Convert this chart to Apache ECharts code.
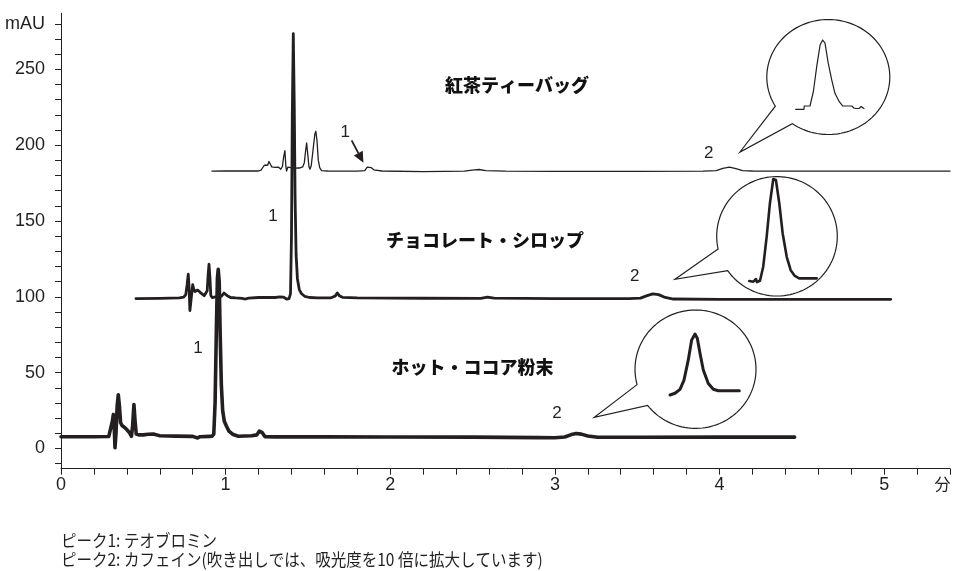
<!DOCTYPE html>
<html>
<head>
<meta charset="utf-8">
<script src="https://cdn.jsdelivr.net/npm/echarts@6/dist/echarts.min.js"></script>
<style>
  html, body { margin: 0; padding: 0; background: #fff; }
  #chart { width: 953px; height: 571px; }
</style>
</head>
<body>
<div id="chart"></div>
<script>
// Chromatograms: [retention time (min), absorbance (mAU)]
const teaBag = [
  [0.917,182.9],[1.0,183.0],[1.2,183.0],[1.215,183.6],[1.235,186.8],[1.245,187.8],[1.255,186.8],
  [1.263,189.3],[1.271,187.6],[1.28,185.7],[1.30,185.4],[1.32,185.6],[1.335,184.2],[1.345,186.0],
  [1.352,192.0],[1.36,196.5],[1.366,186.0],[1.370,183.0],[1.378,185.5],[1.39,185.5],[1.405,185.0],
  [1.42,184.5],[1.435,185.0],[1.451,185.0],[1.468,185.7],[1.478,188.5],[1.486,196.5],[1.492,201.5],
  [1.499,194.0],[1.506,186.0],[1.512,184.2],[1.52,186.5],[1.53,196.0],[1.542,207.5],[1.548,209.2],
  [1.555,203.0],[1.563,190.0],[1.572,185.0],[1.583,183.3],[1.62,183.0],[1.8,182.9],[1.845,183.2],
  [1.86,185.5],[1.872,186.8],[1.885,185.2],[1.90,183.8],[1.95,183.0],[2.2,182.6],[2.45,182.9],
  [2.51,183.7],[2.54,184.0],[2.58,183.3],[2.7,182.9],[3.0,182.8],[3.5,182.8],[3.9,182.9],
  [3.98,183.2],[4.02,184.8],[4.06,185.5],[4.1,184.5],[4.14,183.3],[4.2,183.0],[4.6,182.9],
  [5.0,182.9],[5.4,182.9]
];
const chocolateSyrup = [
  [0.455,98.9],[0.6,99.0],[0.72,99.3],[0.745,99.8],[0.758,101.5],[0.766,108.0],[0.773,115.0],
  [0.778,106.0],[0.783,91.0],[0.79,98.0],[0.8,108.0],[0.807,105.0],[0.814,103.5],[0.83,104.5],
  [0.845,103.0],[0.855,102.3],[0.87,100.8],[0.88,100.2],[0.888,104.0],[0.894,115.0],[0.899,121.5],
  [0.905,112.0],[0.91,101.0],[0.918,99.5],[0.93,100.0],[0.945,100.2],[0.96,99.8],[0.975,100.5],
  [0.99,102.5],[0.997,102.7],[1.01,100.8],[1.03,99.6],[1.06,99.3],[1.1,99.0],[1.12,98.6],
  [1.14,99.2],[1.2,99.6],[1.3,99.6],[1.33,100.0],[1.34,100.9],[1.35,99.9],[1.37,98.6],
  [1.385,98.8],[1.394,102.0],[1.4,140.0],[1.405,220.0],[1.411,273.5],[1.417,225.0],[1.422,165.0],
  [1.428,128.0],[1.436,112.0],[1.447,105.0],[1.46,102.2],[1.48,100.4],[1.51,99.6],[1.56,99.4],
  [1.64,99.4],[1.665,100.5],[1.678,102.6],[1.69,100.8],[1.71,99.7],[1.8,99.4],[2.2,99.1],
  [2.55,99.0],[2.59,99.9],[2.63,99.2],[3.0,98.9],[3.45,98.9],[3.52,99.2],[3.56,100.8],
  [3.595,102.0],[3.63,101.5],[3.67,99.6],[3.72,98.6],[4.0,98.4],[4.5,98.4],[5.04,98.4]
];
const cocoaPowder = [
  [0,7.8],[0.2,7.8],[0.29,7.9],[0.302,9.0],[0.312,18.0],[0.318,22.5],[0.323,15.0],[0.328,0.5],
  [0.334,10.0],[0.341,28.0],[0.348,35.5],[0.355,28.0],[0.362,17.0],[0.372,15.0],[0.385,14.0],
  [0.399,12.5],[0.415,10.6],[0.428,8.1],[0.435,15.0],[0.443,29.0],[0.45,18.0],[0.457,9.5],
  [0.475,9.0],[0.5,9.0],[0.53,9.4],[0.561,9.6],[0.58,9.0],[0.6,8.4],[0.7,8.2],[0.8,8.0],
  [0.83,7.0],[0.845,7.8],[0.9,8.0],[0.918,8.1],[0.928,9.5],[0.936,30.0],[0.944,80.0],[0.95,112.0],
  [0.955,118.2],[0.961,110.0],[0.967,75.0],[0.974,42.0],[0.982,25.0],[0.992,18.0],[1.006,14.5],
  [1.02,11.5],[1.046,9.2],[1.077,8.1],[1.158,8.4],[1.19,9.0],[1.205,11.5],[1.212,12.5],
  [1.222,10.5],[1.239,7.8],[1.3,7.7],[1.6,7.7],[2.0,7.6],[2.5,7.5],[2.9,7.2],[3.0,7.1],
  [3.06,7.6],[3.1,9.2],[3.13,9.9],[3.16,9.5],[3.2,8.3],[3.26,7.4],[3.5,7.4],[4.0,7.5],[4.456,7.5]
];

// Caffeine peaks magnified x10 for the speech-bubble close-ups
const teaCaffeineX10 = [
  [3.9475,0],[3.982,0],[3.983,1.24],[4.007,1.24],[4.021,6.6],[4.035,16.0],[4.049,24.1],[4.06,26.0],
  [4.0696,24.8],[4.083,17.3],[4.0975,11.0],[4.111,6.0],[4.129,2.85],[4.143,1.24],[4.181,1.24],
  [4.182,0.5],[4.19,0.5],[4.192,1.24],[4.199,0.3],[4.207,1.05],[4.211,0.3],[4.22,1.05],
  [4.224,0.3],[4.232,0.3]
];
const chocolateCaffeineX10 = [
  [3.5,0],[3.5167,-0.2],[3.528,0.63],[3.532,-0.3],[3.5446,0.1],[3.558,4.5],[3.5725,13.9],
  [3.586,24.4],[3.60,32.0],[3.611,31.7],[3.625,24.4],[3.639,15.0],[3.656,7.6],[3.6725,3.4],
  [3.690,1.6],[3.708,0.85],[3.781,0.85]
];
const cocoaCaffeineX10 = [
  [3.0258,0],[3.0467,0.56],[3.0675,1.87],[3.0842,4.9],[3.102,11.5],[3.116,18.0],[3.13,20.0],
  [3.1396,18.6],[3.1508,13.7],[3.1646,8.2],[3.1854,3.8],[3.2063,1.87],[3.2271,1.41],[3.3146,1.41]
];

// Axis ticks and labels
const yTickValues = [-10,0,10,20,30,40,50,60,70,80,90,100,110,120,130,140,150,160,170,180,190,200,210,220,230,240,250,260,270,280];
const yLabelValues = [0,50,100,150,200,250,280];
const yUnit = 'mAU';
const xUnit = '分';

const sampleNames = ['紅茶ティーバッグ', 'チョコレート・シロップ', 'ホット・ココア粉末'];
const peakNotes = ['ピーク1: テオブロミン', 'ピーク2: カフェイン(吹き出しでは、吸光度を10 倍に拡大しています)'];

// Peak number labels anchored in data space: [text, time, mAU]
const peakMarks = [
  ['1', 1.727, 208.2], ['2', 3.934, 194.5],
  ['1', 1.287, 153.1], ['2', 3.485, 113.8],
  ['1', 0.832, 66.4], ['2', 3.012, 23.0]
];

const INK = '#231f20';
const NUM_FONT = "'Liberation Sans Narrow','Liberation Sans','DejaVu Sans',sans-serif";
const JP_FONT = "'Noto Sans CJK JP','Noto Sans',sans-serif";

// Close-up bubble layout (pixels) and their plot boxes
const bubbles = [
  { cx: 828.3, cy: 77.0, rx: 61.5, ry: 57.5, b1: [777, 105.3], tip: [740, 152], b2: [793.3, 122.3] },
  { cx: 777.0, cy: 236.3, rx: 60.3, ry: 59.7, b1: [719.7, 248.7], tip: [675, 279.3], b2: [730, 269] },
  { cx: 695.5, cy: 369.2, rx: 60.5, ry: 59.2, b1: [638.3, 384.3], tip: [594.3, 417.3], b2: [649.3, 404] }
];
const insets = [
  { data: teaCaffeineX10, box: { left: 795.7, top: 40, width: 68.3, height: 69.3 }, x: [3.9475, 4.232], y: [0, 26], w: 1.2 },
  { data: chocolateCaffeineX10, box: { left: 749.3, top: 179, width: 67.4, height: 103 }, x: [3.5, 3.781], y: [-0.3, 32], w: 2.6 },
  { data: cocoaCaffeineX10, box: { left: 670, top: 334, width: 69.3, height: 61 }, x: [3.0258, 3.3146], y: [0, 20], w: 3.0 }
];

const chart = echarts.init(document.getElementById('chart'), null, { renderer: 'canvas' });

const grids = [{ left: 61, top: 13.3, width: 889.4, height: 455.4 }];
const xAxes = [{
  type: 'value', gridIndex: 0, min: 0, max: 5.4, interval: 0.2,
  axisLine: { show: true, onZero: false, lineStyle: { color: INK, width: 1 } },
  axisTick: { show: true, length: 6, lineStyle: { color: INK, width: 1 } },
  axisLabel: {
    margin: 7, color: INK, fontFamily: NUM_FONT, fontSize: 18,
    formatter: v => Math.abs(v - Math.round(v)) < 1e-6 && Math.round(v) <= 5 ? String(Math.round(v)) : ''
  },
  splitLine: { show: false }
}];
const yAxes = [{
  type: 'value', gridIndex: 0, min: -13.3, max: 287,
  axisLine: { show: true, onZero: false, lineStyle: { color: INK, width: 1 } },
  axisTick: { show: true, length: 6, customValues: yTickValues, lineStyle: { color: INK, width: 1 } },
  axisLabel: {
    margin: 16, color: INK, fontFamily: NUM_FONT, fontSize: 18, customValues: yLabelValues,
    formatter: v => (v === 280 ? yUnit : String(v))
  },
  splitLine: { show: false }
}];

const series = [
  { name: sampleNames[0], data: teaBag, w: 1.3 },
  { name: sampleNames[1], data: chocolateSyrup, w: 2.8 },
  { name: sampleNames[2], data: cocoaPowder, w: 3.6 }
].map(s => ({
  type: 'line', name: s.name, data: s.data, xAxisIndex: 0, yAxisIndex: 0,
  showSymbol: false, symbol: 'none', smooth: false, animation: false, z: 3,
  lineStyle: { color: INK, width: s.w, join: 'round', cap: 'round' }
}));

insets.forEach((ins, i) => {
  grids.push(ins.box);
  xAxes.push({ type: 'value', gridIndex: i + 1, min: ins.x[0], max: ins.x[1], show: false });
  yAxes.push({ type: 'value', gridIndex: i + 1, min: ins.y[0], max: ins.y[1], show: false });
  series.push({
    type: 'line', data: ins.data, xAxisIndex: i + 1, yAxisIndex: i + 1,
    showSymbol: false, symbol: 'none', animation: false, z: 6, clip: false,
    lineStyle: { color: INK, width: ins.w, join: 'round', cap: 'round' }
  });
});

chart.setOption({
  animation: false,
  backgroundColor: '#fff',
  grid: grids,
  xAxis: xAxes,
  yAxis: yAxes,
  series: series
});

// Speech bubble outline: ellipse arc open between the tail's base points, closed via the tip
function bubblePoints(b) {
  const ang = p => Math.atan2((p[1] - b.cy) / b.ry, (p[0] - b.cx) / b.rx);
  const a1 = ang(b.b1), a2 = ang(b.b2);
  let d = a2 - a1;
  while (d <= -Math.PI) d += 2 * Math.PI;
  while (d > Math.PI) d -= 2 * Math.PI;
  const sweep = d > 0 ? d - 2 * Math.PI : d + 2 * Math.PI;
  const pts = [];
  const n = 120;
  for (let k = 0; k <= n; k++) {
    const a = a1 + sweep * k / n;
    pts.push([b.cx + b.rx * Math.cos(a), b.cy + b.ry * Math.sin(a)]);
  }
  pts.push(b.tip);
  return pts;
}

const graphics = [];
bubbles.forEach(b => {
  graphics.push({
    type: 'polygon', silent: true, z: 4,
    shape: { points: bubblePoints(b) },
    style: { fill: '#fff', stroke: INK, lineWidth: 1.2, lineJoin: 'miter' }
  });
});

// Sample names
const nameSpots = [[445, 85.3], [386, 240], [391.5, 367.5]];
sampleNames.forEach((t, i) => {
  graphics.push({
    type: 'text', silent: true, z: 7,
    style: {
      text: t, x: nameSpots[i][0], y: nameSpots[i][1], fill: '#111',
      font: "900 18px " + JP_FONT, textAlign: 'left', textVerticalAlign: 'middle'
    }
  });
});

// Peak numbers
peakMarks.forEach(m => {
  const p = chart.convertToPixel({ gridIndex: 0 }, [m[1], m[2]]);
  graphics.push({
    type: 'text', silent: true, z: 7,
    style: {
      text: m[0], x: p[0], y: p[1], fill: INK,
      font: "17px " + NUM_FONT, textAlign: 'center', textVerticalAlign: 'middle'
    }
  });
});

// Arrow pointing at the small theobromine peak in tea
const tip = chart.convertToPixel({ gridIndex: 0 }, [1.837, 188.4]);
const start = [tip[0] - 11.8, tip[1] - 22.5];
const ux = 11.8 / 25.4, uy = 22.5 / 25.4;
const hb = [tip[0] - 11 * ux, tip[1] - 11 * uy];
graphics.push({
  type: 'line', silent: true, z: 7,
  shape: { x1: start[0], y1: start[1], x2: hb[0], y2: hb[1] },
  style: { stroke: INK, lineWidth: 1.8 }
});
graphics.push({
  type: 'polygon', silent: true, z: 7,
  shape: { points: [tip, [hb[0] - 5 * uy, hb[1] + 5 * ux], [hb[0] + 5 * uy, hb[1] - 5 * ux]] },
  style: { fill: INK }
});

// Time unit on the x axis
const unitPos = chart.convertToPixel({ gridIndex: 0 }, [5.355, -13.3]);
graphics.push({
  type: 'text', silent: true, z: 7,
  style: {
    text: xUnit, x: unitPos[0], y: unitPos[1] + 15, fill: INK,
    font: "16px " + JP_FONT, textAlign: 'center', textVerticalAlign: 'middle'
  }
});

// Peak identification notes, set in a narrowed face
peakNotes.forEach((t, i) => {
  graphics.push({
    type: 'text', silent: true, z: 7,
    x: 61, y: 540 + i * 19, scaleX: 0.886, scaleY: 1,
    style: {
      text: t, x: 0, y: 0, fill: INK,
      font: "17.5px " + JP_FONT, textAlign: 'left', textVerticalAlign: 'middle'
    }
  });
});

chart.setOption({ graphic: graphics });
</script>
</body>
</html>
